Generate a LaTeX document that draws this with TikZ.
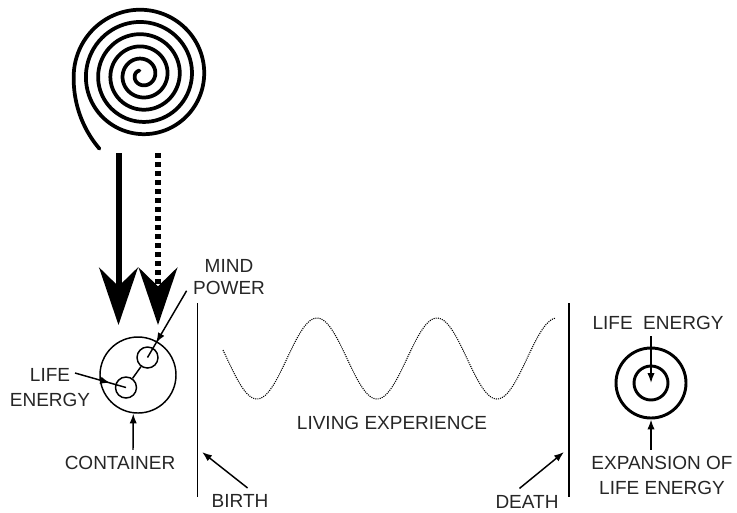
\documentclass[tikz,border=0pt]{standalone}
\usepackage{fontspec}
\setmainfont{Liberation Sans}
\usepackage{tikz}
\usetikzlibrary{arrows.meta, positioning, decorations.markings}

\tikzset{pointer/.style={draw, line width=1.1pt, postaction={decorate},
    decoration={markings, mark=at position #1 with {\arrow{Latex[length=7.5pt,width=5.5pt]}}}}}

\begin{document}
\begin{tikzpicture}[x=0.75pt, y=-0.75pt, >={Latex[length=7.5pt,width=5.5pt]}, thick]
    % Styles
    \tikzstyle{lbl} = [text=black!85, font=\fontsize{14.25pt}{18.75pt}\selectfont, align=center, inner sep=4.5pt]
    \tikzstyle{ring} = [circle, draw, line width=1.1pt, minimum size=57pt, inner sep=0pt]
    \tikzstyle{cell} = [circle, draw, line width=1.1pt, minimum size=15.75pt, inner sep=0pt]
    \tikzstyle{target} = [circle, draw, line width=2.2pt, inner sep=0pt]
    \tikzstyle{line} = [draw, ->, line width=1.1pt]
    \tikzstyle{bigarrow} = [line width=4.5pt, -{Stealth[length=43pt,width=29pt,inset=14pt]}]

    \useasboundingbox (0,0) rectangle (737,512);

    % Spiral
    \draw [line width=2.8pt, line cap=round, shift={(142,75)}]
        plot [domain=120:2040, samples=420, smooth] (-\x:{1+0.034*\x+0.0041*pow(max(0,\x-1980),2)});

    % Nodes
    \node [ring] (container) at (138,375) {};
    \node [cell] (mindcirc) at (147.5,357.5) {};
    \node [cell] (lifecirc) at (126,387.5) {};
    \node [lbl, font=\fontsize{14.25pt}{16.5pt}\selectfont] (mindlbl) at (229,277) {MIND\\POWER};
    \node [lbl] (lifelbl) at (50,387.5) {LIFE\\ENERGY};
    \node [lbl] (contlbl) at (120,463) {CONTAINER};
    \node [lbl] (birthlbl) at (240,501) {BIRTH};
    \node [lbl] (deathlbl) at (527,501.5) {DEATH};
    \node [lbl] (living) at (392,423) {LIVING EXPERIENCE};
    \node [target, minimum size=52.5pt] (outer) at (651,383) {};
    \node [target, minimum size=25.5pt] (inner) at (651,383) {};
    \node [lbl] (lelbl) at (658,323) {LIFE\ \ ENERGY};
    \node [lbl] (explbl) at (662,475.5) {EXPANSION OF\\LIFE ENERGY};

    % Coordinates
    \coordinate (solidtop) at (118.5,153);
    \coordinate (solidtip) at (118.5,325);
    \coordinate (dottop) at (158,153);
    \coordinate (dottip) at (158,325);
    \coordinate (lifestart) at (75,373);
    \coordinate (birthtop) at (197.5,303);
    \coordinate (birthbot) at (197.5,497);
    \coordinate (deathtop) at (569,303);
    \coordinate (deathbot) at (569,497);
    \coordinate (btip) at (202,452);
    \coordinate (dtip) at (564,452);

    % Edges
    \draw [bigarrow] (solidtop) -- (solidtip);
    \draw [bigarrow, dash pattern=on 3.75pt off 3pt] (dottop) -- (dottip);
    \draw [line width=1.1pt] (mindcirc) -- (lifecirc);
    \draw [pointer=0.78] (mindlbl.198) -- (mindcirc.center);
    \draw [pointer=0.69] (lifestart) -- (lifecirc.center);
    \draw [line] ([xshift=9.75pt]contlbl.north) -- (container.263);
    \draw [line width=1.1pt] (birthtop) -- (birthbot);
    \draw [line width=1.1pt] (deathtop) -- (deathbot);
    \draw [line] (birthlbl.60) -- (btip);
    \draw [line] (deathlbl.120) -- (dtip);
    \draw [line] (lelbl.south -| outer.center) -- (inner.center);
    \draw [line] (explbl.north -| outer.center) -- (outer.south);

    % Wave
    \draw [line width=0.8pt, dash pattern=on 0.8pt off 0.8pt]
        plot [domain=223:555, samples=150, smooth] (\x,{358.5+40.5*cos(3*(\x-257))});
\end{tikzpicture}
\end{document}
